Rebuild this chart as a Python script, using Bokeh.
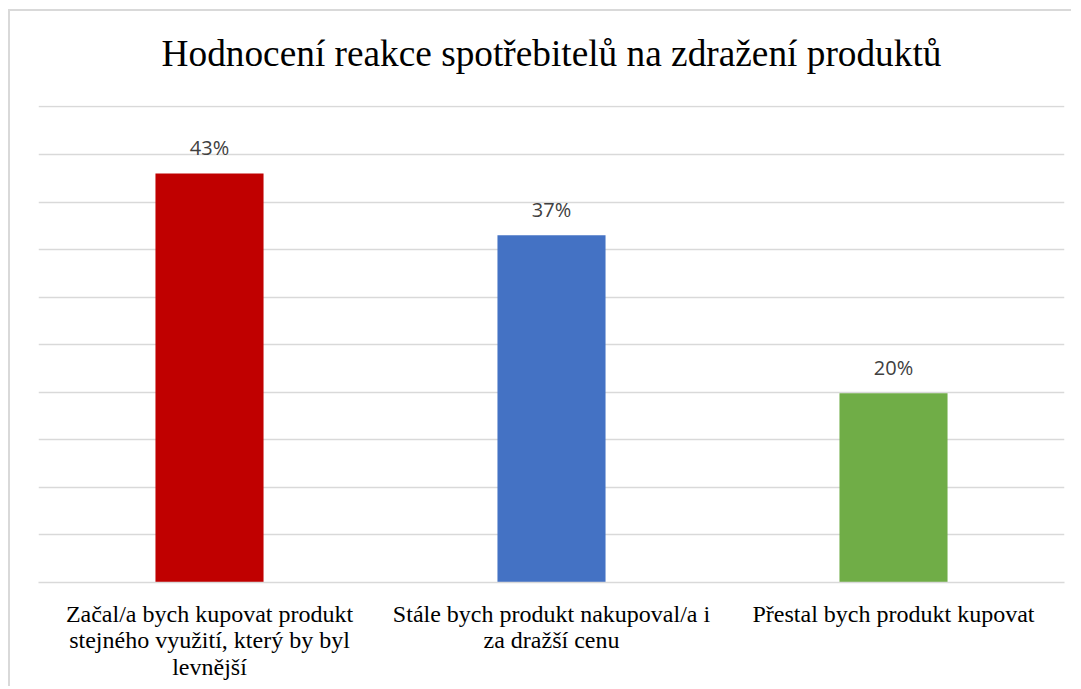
from bokeh.plotting import figure
from bokeh.models import FactorRange, Range1d, SingleIntervalTicker, ColumnDataSource
from bokeh.core.properties import value
from bokeh.embed import file_html
from bokeh.resources import INLINE

title_text = "Hodnocení reakce spotřebitelů na zdražení produktů"
categories = [
    "Začal/a bych kupovat produkt\nstejného využití, který by byl\nlevnější",
    "Stále bych produkt nakupoval/a i\nza dražší cenu",
    "Přestal bych produkt kupovat",
]
values = [43.0, 36.5, 19.9]
value_labels = ["43%", "37%", "20%"]
colors = ["#C00000", "#4472C4", "#70AD47"]

source = ColumnDataSource(dict(cat=categories, val=values, lab=value_labels, col=colors))

p = figure(
    width=1063, height=677,
    x_range=FactorRange(*categories, range_padding=0),
    y_range=Range1d(0, 50.15),
    output_backend="svg", toolbar_location=None,
    min_border_left=28, min_border_right=9, min_border_top=94, min_border_bottom=106,
)
p.styles = {"border-top": "2px solid #d9d9d9", "border-left": "2px solid #d9d9d9",
            "margin-left": "8px", "margin-top": "9px"}

p.title.text = title_text
p.title.align = "center"
p.title.text_font = "Liberation Serif"
p.title.text_font_size = "37.3px"
p.title.text_font_style = "normal"
p.title.text_color = "#000000"
try:
    p.title.padding = dict(left=0, right=0, top=0, bottom=32)
    p.title.vertical_align = "bottom"
    p.title.standoff = 0
except Exception:
    p.title.vertical_align = "top"
    p.title.standoff = 45

p.vbar(x="cat", top="val", width=0.316, color="col", line_color=None, source=source)
p.text(x="cat", y="val", text="lab", source=source, text_align="center",
       text_baseline="alphabetic", y_offset=-26, text_font=value("Open Sans"),
       text_font_size="20px", text_color="#404040")

p.yaxis.visible = False
p.ygrid.ticker = SingleIntervalTicker(interval=5)
p.ygrid.grid_line_color = "#d9d9d9"
p.ygrid.grid_line_width = 1.5
p.xgrid.visible = False
p.outline_line_color = None

ax = p.xaxis[0]
ax.axis_line_color = "#d9d9d9"
ax.axis_line_width = 1.5
ax.major_tick_line_color = None
ax.minor_tick_line_color = None
ax.major_label_text_font = "Liberation Serif"
ax.major_label_text_font_size = "24px"
ax.major_label_text_color = "#000000"
ax.major_label_text_line_height = 1.03
ax.major_label_standoff = 12
ax.major_label_orientation = "horizontal"

open("out.html", "w").write(file_html(p, INLINE))
